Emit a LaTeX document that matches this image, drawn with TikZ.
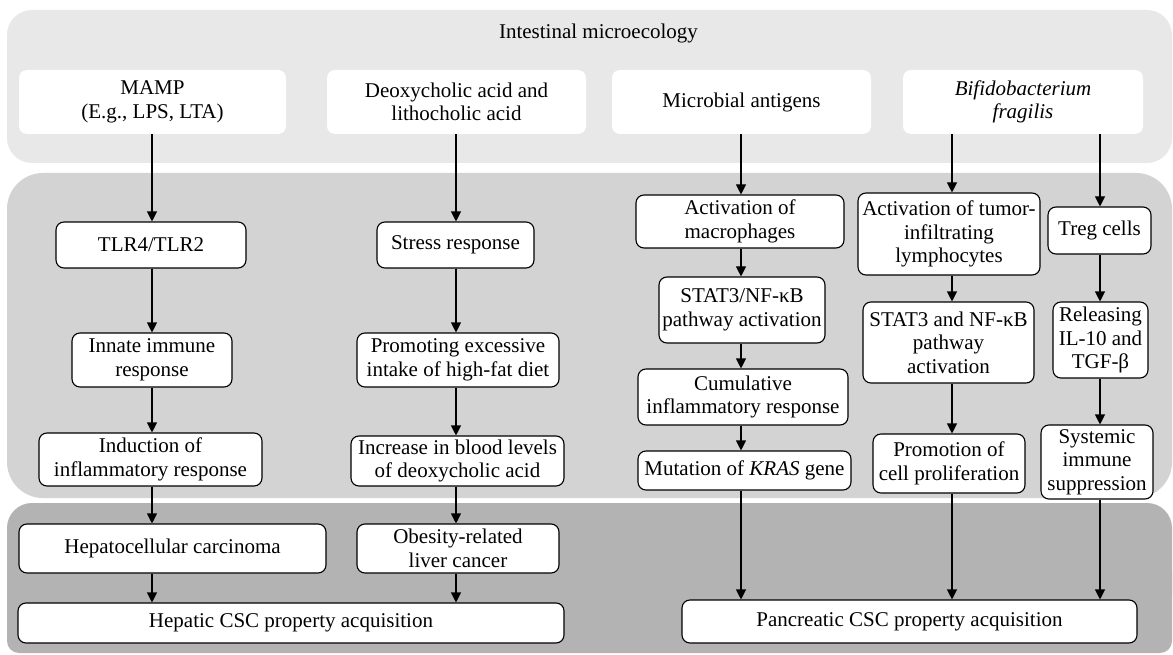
\documentclass[tikz,border=0pt]{standalone}
\usepackage{fontspec}
\setmainfont{Liberation Serif}
\usetikzlibrary{arrows.meta}
\definecolor{ptop}{HTML}{E8E8E8}
\definecolor{pmid}{HTML}{D3D3D3}
\definecolor{pbot}{HTML}{B3B3B3}
\begin{document}
\begin{tikzpicture}[x=1pt,y=-1pt,
  every node/.style={font=\fontsize{21}{23.5}\selectfont, align=center, inner sep=0pt},
  topbox/.style={fill=white, rounded corners=8pt},
  box/.style={draw=black, line width=1.1pt, fill=white, rounded corners=8pt},
  arr/.style={-{Triangle[width=10pt,length=10pt]}, line width=1.1pt}]
\useasboundingbox[fill=white] (0,0) rectangle (1173,655);
% panels
\fill[ptop, rounded corners=25pt] (7,10) rectangle (1172,163);
\fill[pmid, rounded corners=36pt] (7,173) rectangle (1172,498);
\fill[pbot, rounded corners=25pt] (7,503) rectangle (1172,620);
\fill[pbot, rounded corners=12pt] (7,560) rectangle (1172,653);
% column x
\coordinate (xa) at (152,0);
\coordinate (xb) at (456,0);
\coordinate (xc) at (741,0);
\coordinate (xd) at (952,0);
\coordinate (xe) at (1100,0);
% title
\node (title) at (598.5,33) {Intestinal microecology};
% top row
\node[topbox, minimum width=267pt, minimum height=64pt] (mamp) at (152.5,102) {MAMP\\(E.g., LPS, LTA)};
\node[topbox, minimum width=259pt, minimum height=64pt] (deoxy) at (456.5,102) {Deoxycholic acid and\\lithocholic acid};
\node[topbox, minimum width=259pt, minimum height=64pt] (microb) at (741.5,102) {Microbial antigens};
\node[topbox, minimum width=240pt, minimum height=64pt] (bifido) at (1023,102) {\textit{Bifidobacterium}\\\textit{fragilis}};
% column 1
\node[box, minimum width=190pt, minimum height=46pt] (tlr) at (151,245) {TLR4/TLR2};
\node[box, minimum width=160pt, minimum height=54pt] (innate) at (152,360) {Innate immune\\response};
\node[box, minimum width=223pt, minimum height=53pt] (induct) at (150.5,459.5) {Induction of\\inflammatory response};
% column 2
\node[box, minimum width=157pt, minimum height=46pt] (stress) at (455.5,245) {Stress response};
\node[box, minimum width=202pt, minimum height=54pt] (promo) at (458,360) {Promoting excessive\\intake of high-fat diet};
\node[box, minimum width=213pt, minimum height=50pt] (increase) at (457.5,461) {Increase in blood levels\\of deoxycholic acid};
% column 3
\node[box, minimum width=208pt, minimum height=53pt] (actmac) at (740,221.5) {Activation of\\macrophages};
\node[box, minimum width=166pt, minimum height=66pt] (stata) at (742,310) {STAT3/NF-κB\\pathway activation};
\node[box, minimum width=210pt, minimum height=56pt] (cumul) at (743,397) {Cumulative\\inflammatory response};
\node[box, minimum width=213pt, minimum height=39pt] (mut) at (744.5,470.5) {Mutation of \textit{KRAS} gene};
% column 4
\node[box, minimum width=182pt, minimum height=82pt] (acttum) at (949,234) {Activation of tumor-\\infiltrating\\lymphocytes};
\node[box, minimum width=171pt, minimum height=81pt] (statb) at (948.5,342.5) {STAT3 and NF-κB\\pathway\\activation};
\node[box, minimum width=152pt, minimum height=59pt] (promcell) at (949,463.5) {Promotion of\\cell proliferation};
% column 5
\node[box, minimum width=103pt, minimum height=47pt] (treg) at (1099.5,230.5) {Treg cells};
\node[box, minimum width=95pt, minimum height=76pt] (releas) at (1100.5,340) {Releasing\\IL-10 and\\TGF-β};
\node[box, minimum width=112pt, minimum height=74pt] (system) at (1097,462) {Systemic\\immune\\suppression};
% bottom
\node[box, minimum width=307pt, minimum height=49pt] (hcc) at (172.5,548.5) {Hepatocellular carcinoma};
\node[box, minimum width=202pt, minimum height=49pt] (obesity) at (458,548.5) {Obesity-related\\liver cancer};
\node[box, minimum width=546pt, minimum height=40pt] (hepatic) at (291,623) {Hepatic CSC property acquisition};
\node[box, minimum width=455pt, minimum height=43pt] (panc) at (909.5,621.5) {Pancreatic CSC property acquisition};
% arrows column 1
\draw[arr] (mamp.south -| xa) -- (tlr.north -| xa);
\draw[arr] (tlr.south -| xa) -- (innate.north -| xa);
\draw[arr] (innate.south -| xa) -- (induct.north -| xa);
\draw[arr] (induct.south -| xa) -- (hcc.north -| xa);
\draw[arr] (hcc.south -| xa) -- (hepatic.north -| xa);
% column 2
\draw[arr] (deoxy.south -| xb) -- (stress.north -| xb);
\draw[arr] (stress.south -| xb) -- (promo.north -| xb);
\draw[arr] (promo.south -| xb) -- (increase.north -| xb);
\draw[arr] (increase.south -| xb) -- (obesity.north -| xb);
\draw[arr] (obesity.south -| xb) -- (hepatic.north -| xb);
% column 3
\draw[arr] (microb.south -| xc) -- (actmac.north -| xc);
\draw[arr] (actmac.south -| xc) -- (stata.north -| xc);
\draw[arr] (stata.south -| xc) -- (cumul.north -| xc);
\draw[arr] (cumul.south -| xc) -- (mut.north -| xc);
\draw[arr] (mut.south -| xc) -- (panc.north -| xc);
% column 4
\draw[arr] (bifido.south -| xd) -- (acttum.north -| xd);
\draw[arr] (acttum.south -| xd) -- (statb.north -| xd);
\draw[arr] (statb.south -| xd) -- (promcell.north -| xd);
\draw[arr] (promcell.south -| xd) -- (panc.north -| xd);
% column 5
\draw[arr] (bifido.south -| xe) -- (treg.north -| xe);
\draw[arr] (treg.south -| xe) -- (releas.north -| xe);
\draw[arr] (releas.south -| xe) -- (system.north -| xe);
\draw[arr] (system.south -| xe) -- (panc.north -| xe);
\end{tikzpicture}
\end{document}
